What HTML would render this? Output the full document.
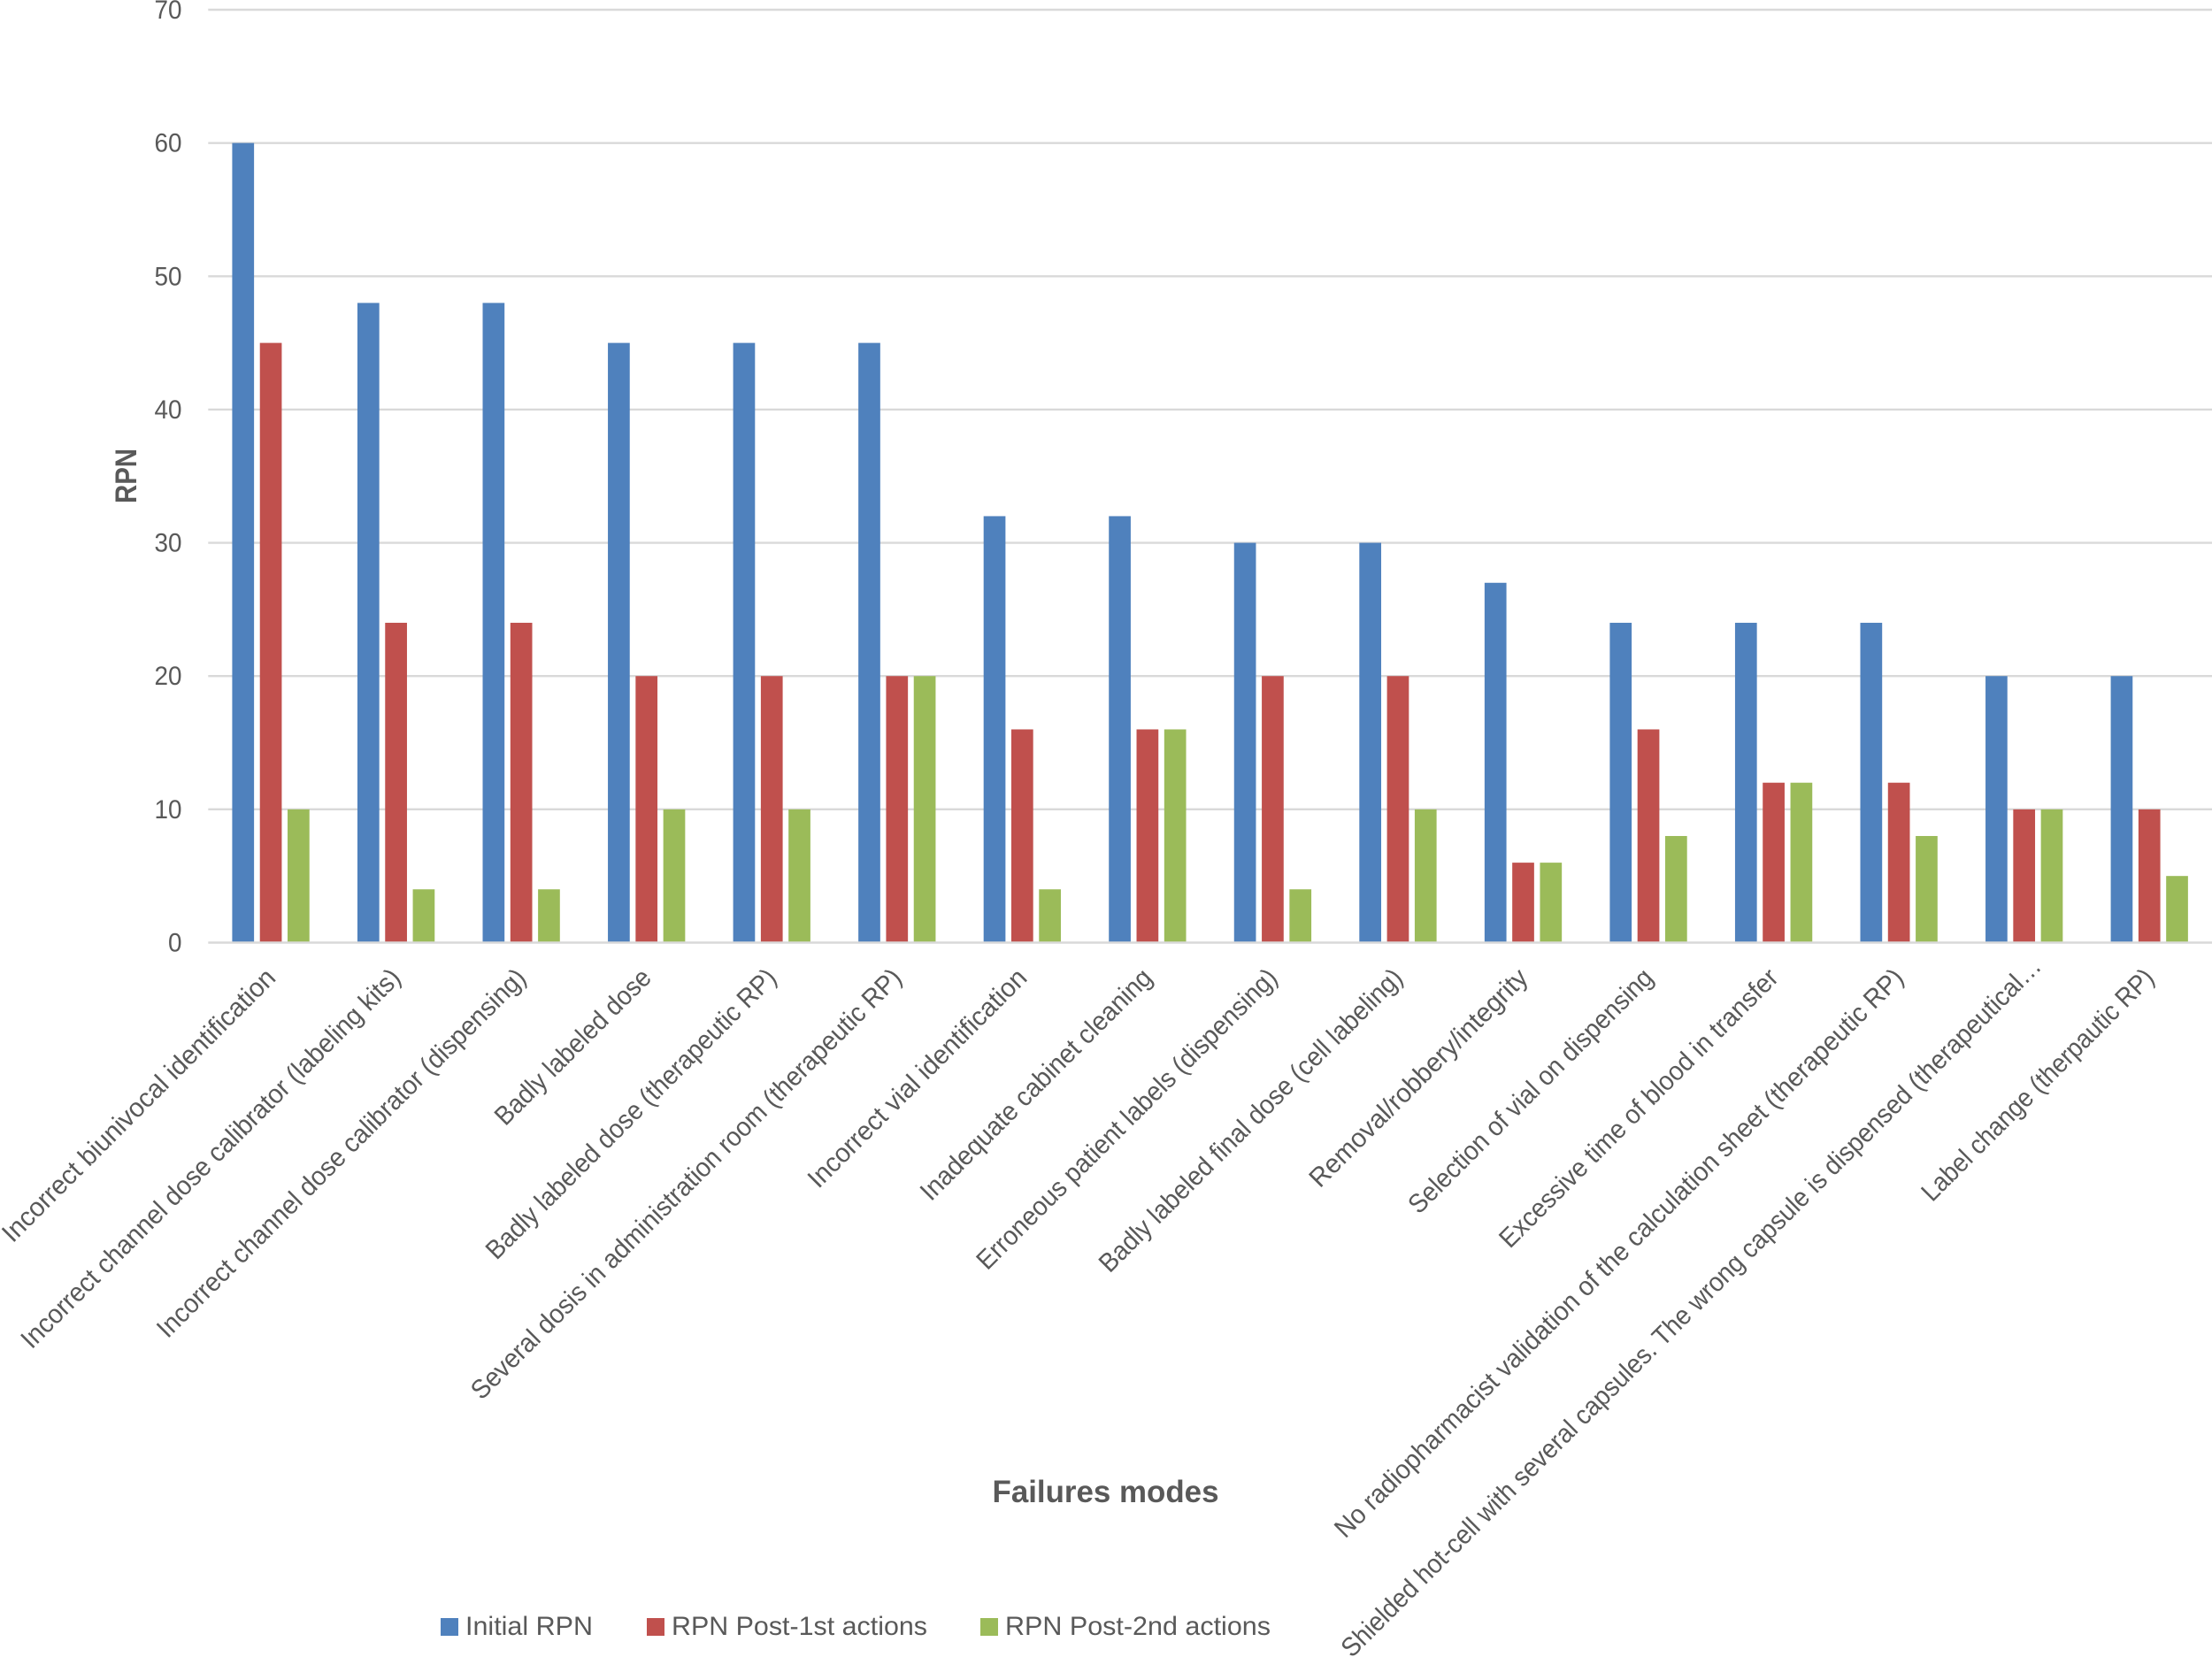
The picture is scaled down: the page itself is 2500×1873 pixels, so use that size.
<!DOCTYPE html>
<html lang="en">
<head>
<meta charset="utf-8">
<title>RPN by failure mode</title>
<style>
html,body{margin:0;padding:0;background:#fff;width:2500px;height:1873px;overflow:hidden}
svg{display:block}
text{font-family:"Liberation Sans",sans-serif;fill:#595959}
</style>
</head>
<body>
<svg id="chart" xmlns="http://www.w3.org/2000/svg" width="2500" height="1873" viewBox="0 0 2500 1873">
<rect x="0" y="0" width="2500" height="1873" fill="#ffffff"/>
<g id="grid"></g>
<g id="bars"></g>
<g id="axis"></g>
<g id="yticks"></g>
<g id="xlabels"></g>
<text transform="translate(154,538) rotate(-90)" text-anchor="middle" font-size="34" font-weight="700" textLength="62" lengthAdjust="spacingAndGlyphs">RPN</text>
<text x="1121.5" y="1698" font-size="35" font-weight="700" textLength="256" lengthAdjust="spacingAndGlyphs">Failures modes</text>
<g>
<g>
<rect x="498" y="1829" width="20" height="20" fill="#4f81bd"/>
<text x="526" y="1848" font-size="30" textLength="144" lengthAdjust="spacingAndGlyphs">Initial RPN</text>
</g>
<g>
<rect x="731" y="1829" width="20" height="20" fill="#c0504d"/>
<text x="759" y="1848" font-size="30" textLength="289" lengthAdjust="spacingAndGlyphs">RPN Post-1st actions</text>
</g>
<g>
<rect x="1108" y="1829" width="20" height="20" fill="#9bbb59"/>
<text x="1136" y="1848" font-size="30" textLength="300" lengthAdjust="spacingAndGlyphs">RPN Post-2nd actions</text>
</g>
</g>
</svg>
<script>
var categories = [
  "Incorrect biunivocal identification",
  "Incorrect channel dose calibrator (labeling kits)",
  "Incorrect channel dose calibrator (dispensing)",
  "Badly labeled dose",
  "Badly labeled dose (therapeutic RP)",
  "Several dosis in administration room (therapeutic RP)",
  "Incorrect vial identification",
  "Inadequate cabinet cleaning",
  "Erroneous patient labels (dispensing)",
  "Badly labeled final dose (cell labeling)",
  "Removal/robbery/integrity",
  "Selection of vial on dispensing",
  "Excessive time of blood in transfer",
  "No radiopharmacist validation of the calculation sheet (therapeutic RP)",
  "Shielded hot-cell with several capsules. The wrong capsule is dispensed (therapeutical\u2026",
  "Label change (therpautic RP)"
];
var initialRpn = [60,48,48,45,45,45,32,32,30,30,27,24,24,24,20,20];
var post1stRpn = [45,24,24,20,20,20,16,16,20,20,6,16,12,12,10,10];
var post2ndRpn = [10,4,4,10,10,20,4,16,4,10,6,8,12,8,10,5];
var yTicks = [0,10,20,30,40,50,60,70];

var NS = "http://www.w3.org/2000/svg";
var plotLeft = 235.3, plotRight = 2500, plotBottom = 1065.5, plotTop = 11;
var yMax = 70;
var barW = 24.7, barStep = 31.3;

function yScale(v) {
  return plotBottom - (v / yMax) * (plotBottom - plotTop);
}
function groupWidth() {
  return (plotRight - plotLeft) / categories.length;
}
function groupCenter(i) {
  return plotLeft + groupWidth() * (i + 0.5);
}
function make(tag, attrs, parentId) {
  var el = document.createElementNS(NS, tag);
  for (var k in attrs) el.setAttribute(k, attrs[k]);
  document.getElementById(parentId).appendChild(el);
  return el;
}

yTicks.forEach(function (t) {
  var yy = yScale(t);
  var line = make("line", {x1: plotLeft, x2: plotRight, y1: yy, y2: yy, stroke: "#d9d9d9", "stroke-width": 2.4}, t === 0 ? "axis" : "grid");
  
  
  var label = make("text", {transform: "translate(205.5," + (yy + 10) + ") scale(0.93,1)", "text-anchor": "end", "font-size": 30}, "yticks");
  
  
  label.textContent = t;
});

var seriesList = [
  {values: initialRpn, color: "#4f81bd", offset: -1},
  {values: post1stRpn, color: "#c0504d", offset: 0},
  {values: post2ndRpn, color: "#9bbb59", offset: 1}
];
seriesList.forEach(function (s) {
  s.values.forEach(function (v, i) {
    var top = yScale(v);
    var bar = make("rect", {
      x: groupCenter(i) + s.offset * barStep - barW / 2,
      y: top,
      width: barW,
      height: plotBottom - top,
      fill: s.color
    }, "bars");
    
    
  });
});

// Horizontal glyph squeeze per label, standing in for the narrower original typeface.
var labelSqueeze = [0.975,0.955,0.948,0.93,0.937,0.949,0.973,0.949,0.942,0.938,0.98,0.934,0.945,0.955,0.936,0.915];

categories.forEach(function (c, i) {
  var isEllipsised = c.charAt(c.length - 1) === "\u2026";
  var label = make("text", {
    transform: "translate(" + (groupCenter(i) + 7 + (isEllipsised ? 14 : 0)) + "," + (1107 - (isEllipsised ? 13 : 0)) + ") rotate(-45) scale(" + labelSqueeze[i] + ",1)",
    "text-anchor": "end",
    "font-size": 30
  }, "xlabels");
  
  
  label.textContent = c;
});
</script>
</body>
</html>
